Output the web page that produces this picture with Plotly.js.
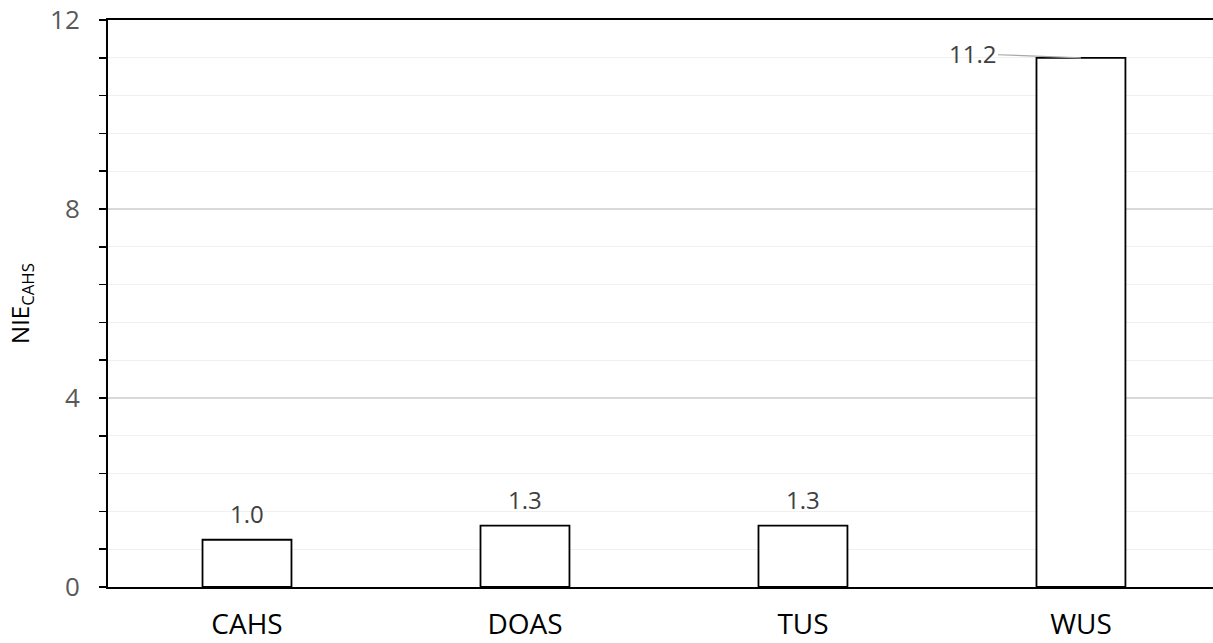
<!DOCTYPE html>
<html>
<head>
<meta charset="utf-8">
<script src="https://cdn.plot.ly/plotly-3.0.1.min.js"></script>
<style>html,body{margin:0;padding:0;background:#fff;}#chart{width:1213px;height:643px;}</style>
</head>
<body>
<div id="chart"></div>
<script>
const categories = ["CAHS", "DOAS", "TUS", "WUS"];
const values = [1.0, 1.3, 1.3, 11.2];
const labels = ["1.0", "1.3", "1.3", "11.2"];
const yTickVals = [0, 4, 8, 12];
const yTickText = ["0", "4", "8", "12"];

const FONT = "'Open Sans', 'Noto Sans', sans-serif";

const trace = {
  type: "bar",
  x: categories,
  y: values,
  width: 0.32,
  marker: {color: "#ffffff", line: {color: "#000000", width: 1.8}},
  hoverinfo: "skip"
};

const annotations = categories.map((c, i) => {
  if (i === categories.length - 1) {
    return {
      x: c, y: values[i], xref: "x", yref: "y",
      text: labels[i], showarrow: true, arrowhead: 0, arrowwidth: 1.2,
      arrowcolor: "#a6a6a6", ax: -108, ay: -4, xanchor: "center", yanchor: "middle",
      font: {family: FONT, size: 24, color: "#404040"}
    };
  }
  return {
    x: c, y: values[i], xref: "x", yref: "y",
    text: labels[i], showarrow: false, yanchor: "bottom", yshift: 8,
    font: {family: FONT, size: 24, color: "#404040"}
  };
});

const layout = {
  width: 1213, height: 643,
  margin: {l: 108, r: 0, t: 20, b: 56, pad: 0},
  paper_bgcolor: "#ffffff", plot_bgcolor: "#ffffff",
  showlegend: false,
  bargap: 0,
  xaxis: {
    type: "category",
    range: [-0.5, 3.475],
    showline: true, linecolor: "#000000", linewidth: 2, mirror: true,
    ticks: "", showgrid: false, zeroline: false,
    tickfont: {family: FONT, size: 28, color: "#000000"},
    ticklabelstandoff: 11,
    fixedrange: true
  },
  yaxis: {
    range: [0, 12],
    tickvals: yTickVals, ticktext: yTickText,
    showline: true, linecolor: "#000000", linewidth: 2,
    ticks: "outside", ticklen: 7, tickwidth: 1.5, tickcolor: "#000000",
    showgrid: true, gridcolor: "#d9d9d9", gridwidth: 1.3,
    zeroline: false,
    tickfont: {family: FONT, size: 26, color: "#595959"},
    ticklabelstandoff: 14,
    minor: {dtick: 0.8, tick0: 0, ticks: "outside", ticklen: 7, tickwidth: 1.5, tickcolor: "#000000",
            showgrid: true, gridcolor: "#f0f0f0", gridwidth: 1.3},
    title: {text: "NIE<sub>CAHS</sub>", font: {family: FONT, size: 24, color: "#000000"}, standoff: 14},
    fixedrange: true
  },
  annotations: annotations
};

Plotly.newPlot("chart", [trace], layout, {staticPlot: true, displayModeBar: false});
</script>
</body>
</html>
